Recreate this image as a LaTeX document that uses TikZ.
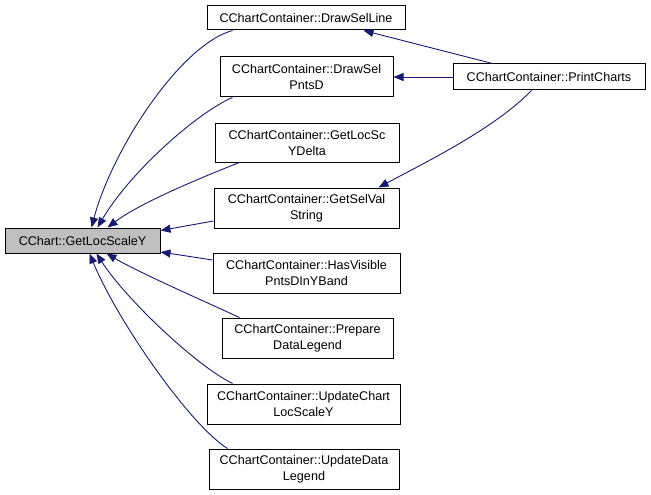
\documentclass[tikz,border=0pt]{standalone}
\usepackage{fontspec}
\setmainfont{Liberation Sans}
\usetikzlibrary{arrows.meta}
\definecolor{edgeblue}{RGB}{25,25,112}
\definecolor{mainfill}{RGB}{191,191,191}
\begin{document}
\begin{tikzpicture}[x=1pt,y=-1pt,
  box/.style={draw=black,line width=1pt,fill=white,inner sep=0pt,align=center,
    font=\fontsize{12.6}{16}\selectfont},
  mainbox/.style={box,fill=mainfill},
  edge/.style={draw=edgeblue,line width=0.9pt,-{Triangle[length=10pt,width=8pt]}},
]
\useasboundingbox (0,0) rectangle (651,495);
% nodes
\node[mainbox,minimum width=155pt,minimum height=25pt] (main) at (82.5,240.5) {CChart::GetLocScaleY};
\node[box,minimum width=198pt,minimum height=24pt] (dsl) at (306,18) {CChartContainer::DrawSelLine};
\node[box,minimum width=173pt,minimum height=40pt] (dsp) at (306.5,77) {CChartContainer::DrawSel\\PntsD};
\node[box,minimum width=184pt,minimum height=39pt] (gly) at (307,142.5) {CChartContainer::GetLocSc\\YDelta};
\node[box,minimum width=185pt,minimum height=40pt] (gsv) at (306.5,208) {CChartContainer::GetSelVal\\String};
\node[box,minimum width=187pt,minimum height=40pt] (hv) at (306.5,273) {CChartContainer::HasVisible\\PntsDInYBand};
\node[box,minimum width=171pt,minimum height=40pt] (pdl) at (307.5,338) {CChartContainer::Prepare\\DataLegend};
\node[box,minimum width=193pt,minimum height=40pt] (ucl) at (303.5,404) {CChartContainer::UpdateChart\\LocScaleY};
\node[box,minimum width=190pt,minimum height=40pt] (udl) at (304,469) {CChartContainer::UpdateData\\Legend};
\node[box,minimum width=192pt,minimum height=26pt] (pc) at (549,77) {CChartContainer::PrintCharts};
% edges to main
\draw[edge] ([xshift=26pt]dsl.south west) .. controls (180,45) and (112,150) .. ([xshift=87pt]main.north west);
\draw[edge] ([xshift=13pt]dsp.south west) .. controls (198,112) and (130,172) .. ([xshift=93pt]main.north west);
\draw[edge] ([xshift=25pt]gly.south west) .. controls (200,178) and (140,203) .. ([xshift=103pt]main.north west);
\draw[edge] ([yshift=-13pt]gsv.west) -- ([yshift=10pt]main.east);
\draw[edge] ([yshift=13pt]hv.west) -- ([yshift=-11.5pt]main.east);
\draw[edge] ([xshift=18pt]pdl.north west) .. controls (195,297) and (140,273) .. ([xshift=102pt]main.south west);
\draw[edge] ([xshift=26pt]ucl.north west) .. controls (195,365) and (125,298) .. ([xshift=92pt]main.south west);
\draw[edge] ([xshift=19pt]udl.north west) .. controls (190,425) and (118,322) .. ([xshift=85pt]main.south west);
% edges from PrintCharts
\draw[edge] ([xshift=40pt]pc.north west) -- ([xshift=-42pt]dsl.south east);
\draw[edge] (pc.west) -- (dsp.east);
\draw[edge] ([xshift=79pt]pc.south west) .. controls (495,128) and (430,160) .. ([xshift=-21pt]gsv.north east);
\end{tikzpicture}
\end{document}
